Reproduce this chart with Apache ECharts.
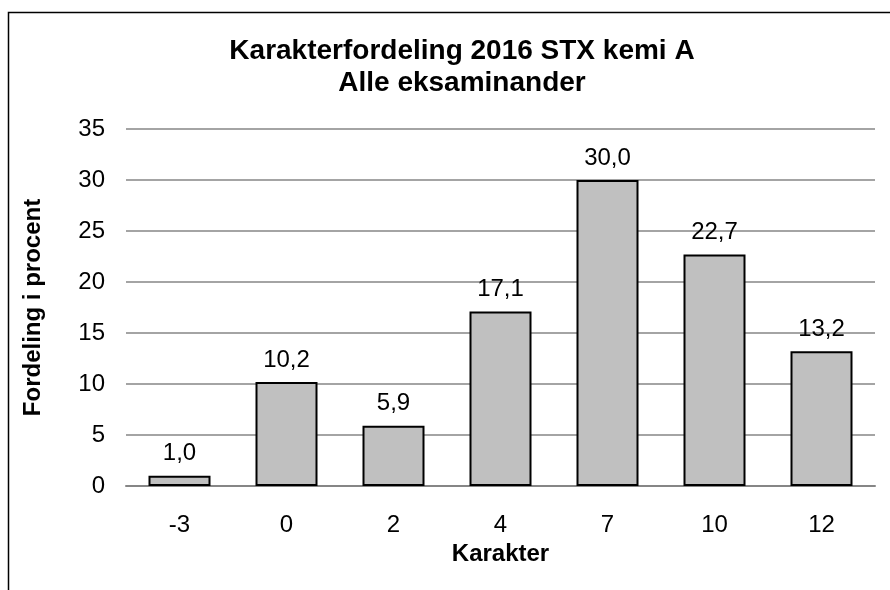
<!DOCTYPE html>
<html>
<head>
<meta charset="utf-8">
<script src="https://cdn.jsdelivr.net/npm/echarts@6/dist/echarts.min.js"></script>
<style>
	html,body{margin:0;padding:0;background:#fff;}
	#chart{width:890px;height:590px;}
</style>
</head>
<body>
<div id="chart"></div>
<script>
var karakterer = ['-3', '0', '2', '4', '7', '10', '12'];
var procent = [1.0, 10.2, 5.9, 17.1, 30.0, 22.7, 13.2];
var yTicks = [0, 5, 10, 15, 20, 25, 30, 35];

var chart = echarts.init(document.getElementById('chart'));
var font = 'Liberation Sans, Arial, sans-serif';
var option = {
	animation: false,
	backgroundColor: '#fff',
	title: {
		text: 'Karakterfordeling 2016 STX kemi A\nAlle eksaminander',
		left: 457,
		textAlign: 'center',
		top: 30,
		textStyle: {fontFamily: font, fontSize: 28, fontWeight: 'bold', color: '#000', lineHeight: 32}
	},
	graphic: [{
		type: 'polyline',
		shape: {points: [[8.5, 590], [8.5, 12.5], [890, 12.5]]},
		style: {stroke: '#000', lineWidth: 1.5, fill: null}
	}],
	grid: {left: 126, right: 15, top: 129, bottom: 104},
	xAxis: {
		type: 'category',
		data: karakterer,
		name: 'Karakter',
		nameLocation: 'middle',
		nameGap: 51,
		nameTextStyle: {fontFamily: font, fontSize: 24, fontWeight: 'bold', color: '#000'},
		axisLine: {lineStyle: {color: '#868686', width: 2}},
		axisTick: {show: false},
		axisLabel: {fontFamily: font, fontSize: 24, color: '#000', margin: 27}
	},
	yAxis: {
		type: 'value',
		min: yTicks[0],
		max: yTicks[yTicks.length - 1],
		interval: 5,
		name: 'Fordeling i procent',
		nameLocation: 'middle',
		nameGap: 81,
		nameTextStyle: {fontFamily: font, fontSize: 24, fontWeight: 'bold', color: '#000'},
		axisLine: {show: false},
		axisTick: {show: false},
		axisLabel: {fontFamily: font, fontSize: 24, color: '#000', margin: 21},
		splitLine: {lineStyle: {color: '#868686', width: 1.5}}
	},
	series: [{
		type: 'bar',
		data: procent,
		barWidth: 62,
		itemStyle: {color: '#c0c0c0', borderColor: '#000', borderWidth: 2},
		label: {
			show: true,
			position: 'top',
			distance: 10,
			fontFamily: font,
			fontSize: 24,
			color: '#000',
			formatter: function (p) { return p.value.toFixed(1).replace('.', ','); }
		}
	}]
};
chart.setOption(option);
</script>
</body>
</html>
